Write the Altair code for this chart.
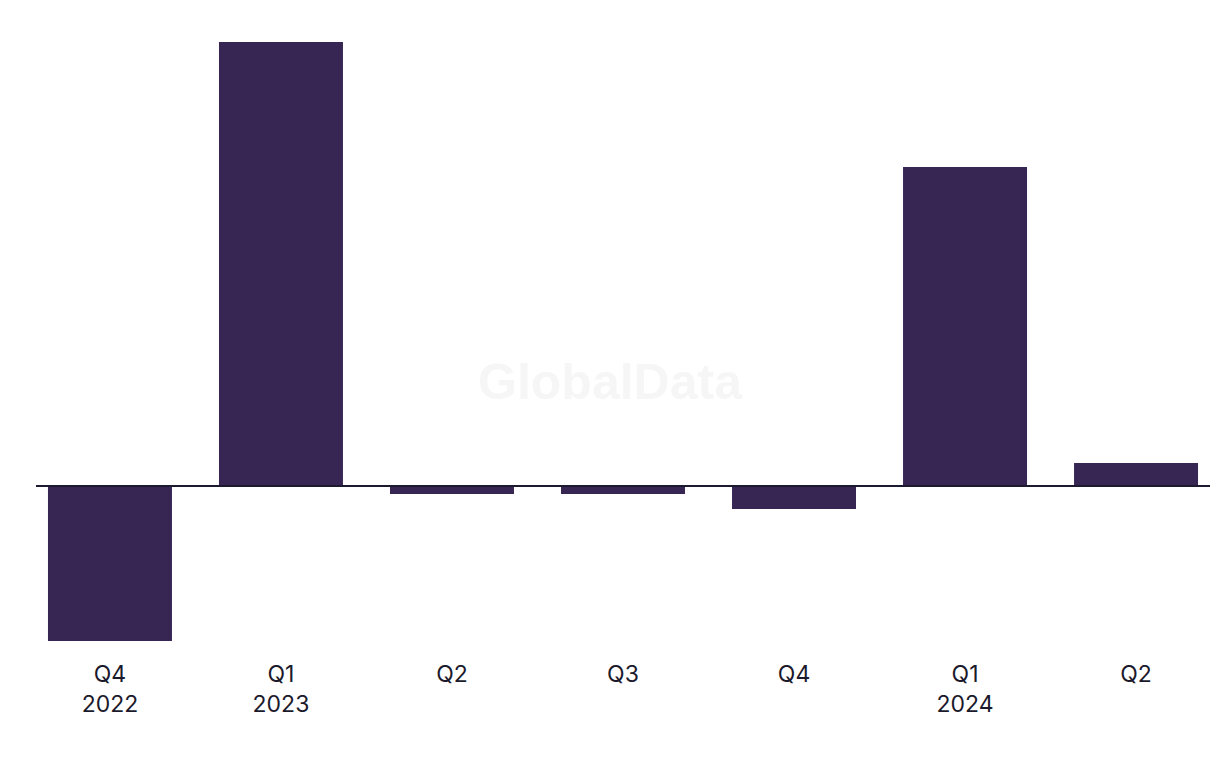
import altair as alt
import pandas as pd

categories = ["Q4 2022", "Q1 2023", "Q2 2023", "Q3 2023", "Q4 2023", "Q1 2024", "Q2 2024"]
values = [-15.5, 44.4, -0.8, -0.8, -2.3, 31.9, 2.3]
year_shown = ["Q4 2022", "Q1 2023", "Q1 2024"]

W, H = 1174, 599
df = pd.DataFrame({"period": categories, "value": values})

shown = ",".join("'%s'" % c for c in year_shown)
label_expr = f"indexof([{shown}], datum.value) >= 0 ? split(datum.value, ' ') : split(datum.value, ' ')[0]"

x = alt.X("period:N", sort=categories, title=None,
          scale=alt.Scale(paddingInner=0.275, paddingOuter=0.07),
          axis=alt.Axis(labelAngle=0, domain=False, ticks=False, grid=False,
                        labelFont="Inter", labelFontSize=23, labelColor="#1b1a2c",
                        labelPadding=22, labelLineHeight=30, labelExpr=label_expr))
y = alt.Y("value:Q", title=None,
          scale=alt.Scale(domain=[min(values), max(values)], nice=False, zero=True),
          axis=None)

watermark = alt.Chart(pd.DataFrame({"t": ["GlobalData"]})).mark_text(
    font="Liberation Sans", fontWeight="bold", fontSize=50, color="#f6f6f6",
    align="center", baseline="middle"
).encode(text="t:N", x=alt.value(W / 2 - 13), y=alt.value(342))

bars = alt.Chart(df).mark_bar(color="#372554").encode(x=x, y=y)

zero = alt.Chart(pd.DataFrame({"z": [0]})).mark_rule(color="#1c1a2e", strokeWidth=2).encode(
    y=alt.Y("z:Q"), x=alt.value(0), x2=alt.value(W))

chart = alt.layer(watermark, bars, zero).properties(
    width=W, height=H,
    background="white",
    autosize=alt.AutoSizeParams(type="none"),
    padding={"left": 28, "top": 34, "right": 0, "bottom": 110},
).configure_view(stroke="transparent", strokeWidth=0)

chart.save("out.html", embed_options={"renderer": "svg", "actions": False})
